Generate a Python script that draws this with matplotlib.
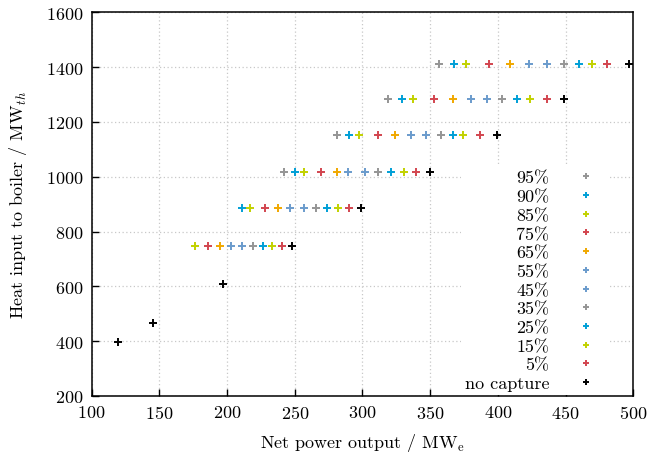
import matplotlib
matplotlib.use('Agg')
import matplotlib.pyplot as plt
import numpy as np

nan = np.nan

# heat input rows (MW_th), one value per boiler size
heat_input = [1412, 1285, 1154, 1019, 887, 749, 610, 468, 396]

capture_levels = ['95%', '90%', '85%', '75%', '65%', '55%',
                  '45%', '35%', '25%', '15%', '5%', 'no capture']

# net power output (MW_e) per capture level, aligned with heat_input
out_95 = [356.3, 318.8, 281.2, 241.8, nan, nan, nan, nan, nan]
out_90 = [367.4, 329.2, 289.8, 249.9, 210.8, nan, nan, nan, nan]
out_85 = [376.2, 337.3, 297.2, 256.6, 216.7, 176.1, nan, nan, nan]
out_75 = [393.4, 352.6, 311.2, 269.1, 227.8, 185.9, nan, nan, nan]
out_65 = [408.7, 366.6, 323.8, 280.9, 237.4, 194.8, nan, nan, nan]
out_55 = [422.7, 379.9, 335.6, 289.1, 246.7, 202.7, nan, nan, nan]
out_45 = [436.0, 391.9, 346.7, 301.6, 256.6, 210.8, nan, nan, nan]
out_35 = [448.6, 402.8, 357.8, 311.5, 265.4, 219.1, nan, nan, nan]
out_25 = [459.7, 413.9, 366.6, 320.8, 273.6, 226.5, nan, nan, nan]
out_15 = [469.5, 423.7, 374.0, 330.7, 281.7, 233.2, nan, nan, nan]
out_05 = [480.4, 436.0, 386.6, 339.3, 290.3, 240.5, nan, nan, nan]
out_nc = [496.6, 448.8, 399.1, 349.6, 298.7, 247.9, 196.8, 145.0, 119.2]

outputs = [out_95, out_90, out_85, out_75, out_65, out_55,
           out_45, out_35, out_25, out_15, out_05, out_nc]

colors = ['#959595', '#009fd6', '#c2d100', '#d2454f', '#f0a800', '#6a9bcc',
          '#6a9bcc', '#959595', '#009fd6', '#c2d100', '#d2454f', '#000000']

plt.rcParams['font.family'] = 'serif'
plt.rcParams['font.serif'] = ['cmr10']
plt.rcParams['mathtext.fontset'] = 'cm'
plt.rcParams['axes.formatter.use_mathtext'] = True
plt.rcParams['font.size'] = 13

fig = plt.figure(figsize=(6.48, 4.6), dpi=100)
ax = fig.add_axes([0.1415, 0.137, 0.9773 - 0.1415, 0.9711 - 0.137])

for lab, vals, c in zip(capture_levels, outputs, colors):
    ax.plot(vals, heat_input, linestyle='none', marker='+', color=c,
            markersize=5.5, markeredgewidth=1.4, label=lab)

ax.set_xlim(100, 500)
ax.set_ylim(200, 1600)
ax.set_xticks(np.arange(100, 501, 50))
ax.set_yticks(np.arange(200, 1601, 200))
ax.tick_params(direction='in', length=5, width=1, top=False, right=False, pad=6)
ax.grid(True, color='#c8c8c8', linestyle=(0, (1, 2)), linewidth=0.9)
ax.set_axisbelow(True)
for s in ax.spines.values():
    s.set_linewidth(1.1)

ax.set_xlabel(r'Net power output / MW$_\mathrm{e}$', labelpad=7)
ax.set_ylabel(r'Heat input to boiler / MW$_{th}$', labelpad=12)

leg = ax.legend(loc='lower right', bbox_to_anchor=(0.955, 0),
                markerfirst=False, frameon=True, markerscale=0.85,
                facecolor='white', edgecolor='none', framealpha=1,
                fancybox=False, handlelength=2, handletextpad=1.05,
                labelspacing=0.17, borderpad=0.2, borderaxespad=0.05)

fig.savefig('out.png', dpi=100)
